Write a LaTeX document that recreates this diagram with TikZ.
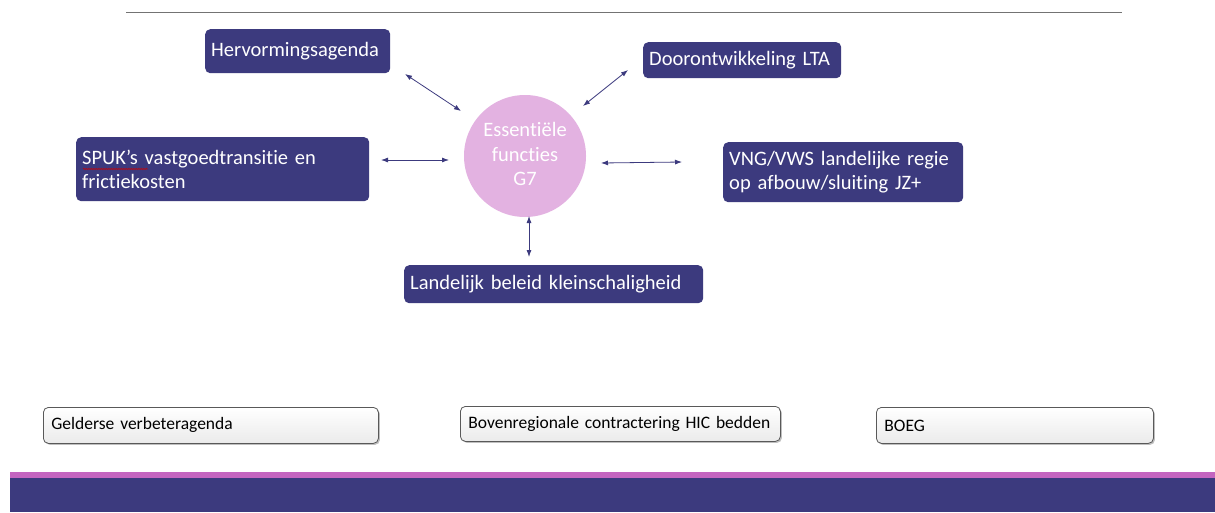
\documentclass[tikz,border=0pt]{standalone}
\usepackage{fontspec}
\setmainfont{Carlito}[RawFeature=-liga]
\usetikzlibrary{arrows.meta,shadows,decorations.pathmorphing}
\definecolor{navy}{HTML}{3C3A7E}
\definecolor{pinkc}{HTML}{E3B2E1}
\definecolor{barpink}{HTML}{C465C0}
\tikzset{
  darkbox/.style={fill=navy, rounded corners=5pt, anchor=north west, text=white,
    font=\fontsize{20.5}{24}\selectfont, align=left, inner xsep=6pt, inner ysep=0pt},
  lightbox/.style={draw=black!65, line width=0.8pt, top color=white, bottom color=black!8,
    rounded corners=5pt, anchor=north west, text=black, drop shadow={shadow xshift=1.5pt, shadow yshift=-1.5pt, opacity=0.5},
    font=\fontsize{17.5}{21}\selectfont, align=left, inner xsep=8pt, inner ysep=0pt},
  link/.style={draw=navy, line width=0.8pt, {Latex[length=7pt,width=5pt]}-{Latex[length=7pt,width=5pt]}}
}
\begin{document}
\begin{tikzpicture}[x=1pt,y=-1pt]
\useasboundingbox (0,0) rectangle (1215,512);
\fill[white] (0,0) rectangle (1215,512);
% top rule
\coordinate (tl) at (126,12);
\coordinate (tr) at (1122,12);
\draw[black!55, line width=1pt] (tl) -- (tr);
% centre
\node[circle, fill=pinkc, minimum size=122pt, inner sep=0pt, text=white, align=center,
  font=\fontsize{20.5}{24.5}\selectfont] (c) at (525,156) {Essentiële\\functies\\G7\rule[-4pt]{0pt}{1pt}};
% boxes
\node[darkbox, minimum width=185pt, minimum height=44pt, text width=173pt] (herv) at (205,29) {Hervormingsagenda\rule[-4pt]{0pt}{1pt}};
\node[darkbox, minimum width=198pt, minimum height=36pt, text width=186pt] (lta) at (643,42) {Doorontwikkeling LTA};
\node[darkbox, minimum width=293pt, minimum height=64pt, text width=281pt] (spuk) at (76,137) {SPUK’s vastgoedtransitie en\\frictiekosten};
\node[darkbox, minimum width=240pt, minimum height=60pt, text width=228pt] (vng) at (723,142) {VNG/VWS landelijke regie\\op afbouw/sluiting JZ+};
\node[darkbox, minimum width=299pt, minimum height=38pt, text width=287pt] (land) at (404,265) {\mbox{Landelijk beleid kleinschaligheid}};
% spellcheck squiggle
\coordinate (sq1) at (83,169);
\coordinate (sq2) at (148,169);
\draw[red!80!black, line width=0.5pt, decorate, decoration={snake, amplitude=0.7pt, segment length=2.5pt}] (sq1) -- (sq2);
% arrows
\coordinate (a1) at (405,74); \coordinate (b1) at (461,111);
\coordinate (a2) at (628,70); \coordinate (b2) at (583,106);
\coordinate (a3) at (381,160); \coordinate (b3) at (449,160);
\coordinate (a4) at (601,163); \coordinate (b4) at (682,162);
\coordinate (a5) at (529,216); \coordinate (b5) at (529,257);
\draw[link] (a1) -- (b1);
\draw[link] (a2) -- (b2);
\draw[link] (a3) -- (b3);
\draw[link] (a4) -- (b4);
\draw[link] (a5) -- (b5);
% bottom boxes
\node[lightbox, minimum width=335pt, minimum height=36pt, text width=319pt] (geld) at (43,407) {\mbox{Gelderse verbeteragenda}};
\node[lightbox, minimum width=320pt, minimum height=35pt, text width=304pt] (bov) at (460,406) {\mbox{Bovenregionale contractering HIC bedden}};
\node[lightbox, minimum width=277pt, minimum height=36pt, text width=261pt] (boeg) at (876,407) {\mbox{BOEG}};
% bottom bar
\fill[barpink] (10,472) rectangle (1215,478);
\fill[navy] (10,478) rectangle (1215,512);
\end{tikzpicture}
\end{document}
